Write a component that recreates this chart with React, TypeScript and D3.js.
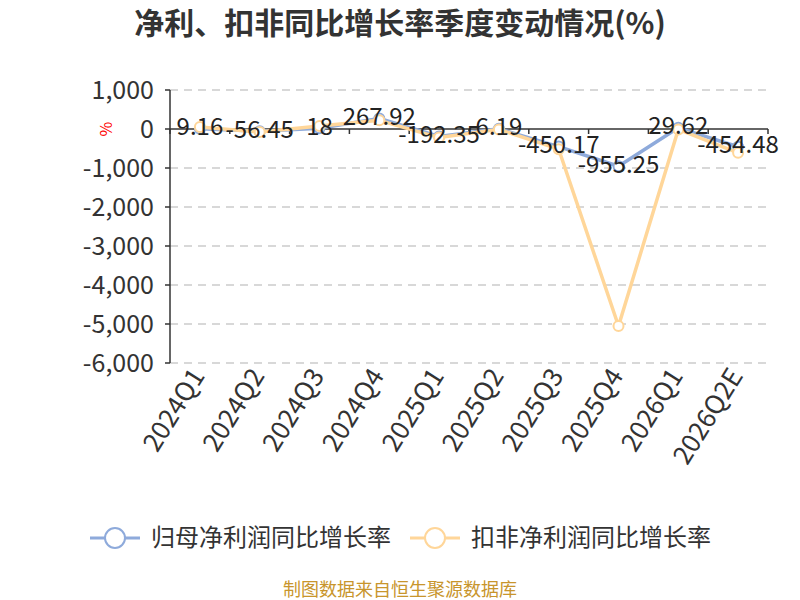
import { useRef, useEffect } from 'react'
import * as d3 from 'd3'

const quarters = ['2024Q1', '2024Q2', '2024Q3', '2024Q4', '2025Q1', '2025Q2', '2025Q3', '2025Q4', '2026Q1', '2026Q2E']
const netProfitYoY = [9.16, -56.45, 18, 267.92, -192.35, 6.19, -450.17, -955.25, 29.62, -454.48]
const deductedYoY = [50, -77, 77, 222, -220, -10, -518, -5050, -10, -612]
const yTicks = [1000, 0, -1000, -2000, -3000, -4000, -5000, -6000]

const seriesNames = ['归母净利润同比增长率', '扣非净利润同比增长率']
const colors = ['#8eaadb', '#ffd699']
const font = '"Noto Sans CJK SC", "Noto Sans", sans-serif'

export default function App() {
  const svgRef = useRef<SVGSVGElement>(null)
  const width = 800
  const height = 600

  useEffect(() => {
    const svg = d3.select(svgRef.current)
    svg.selectAll('*').remove()

    const left = 170, right = 768, top = 90, bottom = 363

    const x = d3.scaleBand<string>().domain(quarters).range([left, right])
    const y = d3.scaleLinear().domain([-6000, 1000]).range([bottom, top])
    const cx = (q: string) => (x(q) ?? 0) + x.bandwidth() / 2

    // title
    svg.append('text')
      .attr('x', 400).attr('y', 34)
      .attr('text-anchor', 'middle')
      .attr('font-size', 30).attr('font-weight', 'bold')
      .attr('fill', '#333')
      .text('净利、扣非同比增长率季度变动情况(%)')

    // grid
    svg.append('g').selectAll('line')
      .data(yTicks.filter(t => t !== 0))
      .join('line')
      .attr('x1', left).attr('x2', right)
      .attr('y1', d => y(d)).attr('y2', d => y(d))
      .attr('stroke', '#ccc').attr('stroke-width', 1.5)
      .attr('stroke-dasharray', '8,6')

    // y axis
    svg.append('line')
      .attr('x1', left).attr('x2', left)
      .attr('y1', top).attr('y2', bottom)
      .attr('stroke', '#333').attr('stroke-width', 1.5)
    svg.append('g').selectAll('line')
      .data(yTicks)
      .join('line')
      .attr('x1', left - 5).attr('x2', left)
      .attr('y1', d => y(d)).attr('y2', d => y(d))
      .attr('stroke', '#333').attr('stroke-width', 1.5)
    svg.append('g').selectAll('text')
      .data(yTicks)
      .join('text')
      .attr('x', left - 16).attr('y', d => y(d))
      .attr('dy', '0.35em')
      .attr('text-anchor', 'end')
      .attr('font-size', 25).attr('fill', '#333')
      .text(d => d3.format(',')(d).replace('−', '-'))

    svg.append('text')
      .attr('transform', `translate(106,${y(0)}) rotate(-90)`)
      .attr('text-anchor', 'middle').attr('dy', '0.35em')
      .attr('font-size', 16).attr('fill', 'red')
      .text('%')

    // x axis on zero line
    svg.append('line')
      .attr('x1', left).attr('x2', right)
      .attr('y1', y(0)).attr('y2', y(0))
      .attr('stroke', '#333').attr('stroke-width', 1.5)
    svg.append('g').selectAll('line')
      .data([...quarters.map(q => x(q) ?? 0), right])
      .join('line')
      .attr('x1', d => d).attr('x2', d => d)
      .attr('y1', y(0)).attr('y2', y(0) + 5)
      .attr('stroke', '#333').attr('stroke-width', 1.5)
    svg.append('g').selectAll('text')
      .data(quarters)
      .join('text')
      .attr('transform', q => `translate(${cx(q) - 2},${bottom + 8}) rotate(-58)`)
      .attr('text-anchor', 'end').attr('dy', '0.35em')
      .attr('font-size', 26).attr('fill', '#333')
      .text(q => q)

    // lines
    const allSeries = [netProfitYoY, deductedYoY]
    const line = d3.line<number>()
      .x((_, i) => cx(quarters[i]))
      .y(d => y(d))

    allSeries.forEach((vals, si) => {
      const g = svg.append('g')
      g.append('path')
        .datum(vals)
        .attr('d', line)
        .attr('fill', 'none')
        .attr('stroke', colors[si])
        .attr('stroke-width', 3.5)
        .attr('stroke-linejoin', 'round')
      g.selectAll('circle')
        .data(vals)
        .join('circle')
        .attr('cx', (_, i) => cx(quarters[i]))
        .attr('cy', d => y(d))
        .attr('r', 5)
        .attr('fill', '#fff')
        .attr('stroke', colors[si])
        .attr('stroke-width', 2)
    })

    // labels for first series
    svg.append('g').selectAll('text')
      .data(netProfitYoY)
      .join('text')
      .attr('x', (_, i) => cx(quarters[i]))
      .attr('y', d => y(d) - 2)
      .attr('dy', '0.35em')
      .attr('text-anchor', 'middle')
      .attr('font-size', 24).attr('fill', '#222')
      .text(d => String(d))

    // legend
    const legendX = [90, 410]
    seriesNames.forEach((name, i) => {
      const g = svg.append('g').attr('transform', `translate(${legendX[i]},538)`)
      g.append('line')
        .attr('x1', 0).attr('x2', 50)
        .attr('stroke', colors[i]).attr('stroke-width', 3)
      g.append('circle')
        .attr('cx', 25).attr('r', 10)
        .attr('fill', '#fff')
        .attr('stroke', colors[i]).attr('stroke-width', 2)
      g.append('text')
        .attr('x', 61).attr('dy', '0.35em')
        .attr('font-size', 24).attr('fill', '#333')
        .text(name)
    })

    svg.append('text')
      .attr('x', 400).attr('y', 590)
      .attr('dy', '0.35em')
      .attr('text-anchor', 'middle')
      .attr('font-size', 18).attr('fill', '#c8952c')
      .text('制图数据来自恒生聚源数据库')
  }, [])

  return (
    <svg
      ref={svgRef}
      width={width}
      height={height}
      style={{ display: 'block', position: 'absolute', left: 0, top: 0, fontFamily: font, background: '#fff' }}
    />
  )
}
